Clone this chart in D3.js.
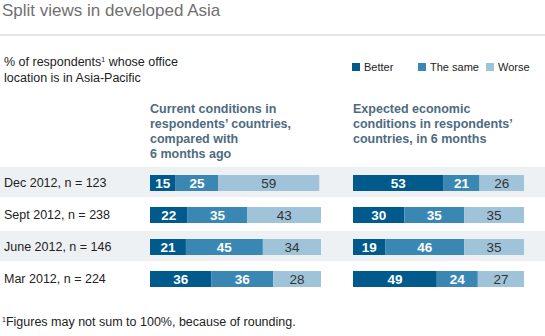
<!DOCTYPE html>
<html>
<head>
<meta charset="utf-8">
<script src="https://cdn.jsdelivr.net/npm/d3@7"></script>
<style>
  html, body { margin: 0; padding: 0; background: #fff; }
  svg { display: block; font-family: "Liberation Sans", Arial, Helvetica, sans-serif; }
</style>
</head>
<body>
<svg id="chart" width="545" height="336"></svg>
<script>
// Survey waves (rows, top to bottom)
const waves = ["Dec 2012, n = 123", "Sept 2012, n = 238", "June 2012, n = 146", "Mar 2012, n = 224"];
const seriesNames = ["Better", "The same", "Worse"];

// Current conditions vs. 6 months ago, % of respondents
const currentBetter = [15, 22, 21, 36];
const currentSame   = [25, 35, 45, 36];
const currentWorse  = [59, 43, 34, 28];

// Expected conditions in 6 months, % of respondents
const expectedBetter = [53, 30, 19, 49];
const expectedSame   = [21, 35, 46, 24];
const expectedWorse  = [26, 35, 35, 27];

const colors = ["#005a8c", "#3a87b4", "#9fc4da"];
const labelColors = ["#ffffff", "#ffffff", "#333333"];

const svg = d3.select("#chart");

// Title and rule
svg.append("text").attr("x", 2).attr("y", 16)
  .attr("font-size", 17).attr("fill", "#707070")
  .text("Split views in developed Asia");
svg.append("rect").attr("x", 0).attr("y", 34).attr("width", 545).attr("height", 2)
  .attr("fill", "#e6e6e6");

// Subtitle with footnote marker
const sub = svg.append("text").attr("font-size", 12.5).attr("fill", "#222");
const l1 = sub.append("tspan").attr("x", 4).attr("y", 66);
l1.append("tspan").text("% of respondents");
l1.append("tspan").attr("font-size", 7).attr("dy", -4).text("1");
l1.append("tspan").attr("dy", 4).text(" whose office");
sub.append("tspan").attr("x", 4).attr("y", 82).text("location is in Asia-Pacific");

// Legend
const legendX = [352, 418, 486];
const legend = svg.append("g");
seriesNames.forEach((name, i) => {
  legend.append("rect").attr("x", legendX[i]).attr("y", 63).attr("width", 8).attr("height", 8)
    .attr("fill", colors[i]);
  legend.append("text").attr("x", legendX[i] + 12).attr("y", 71)
    .attr("font-size", 11).attr("fill", "#222").text(name);
});

// Column headers
const headerColor = "#4e6b80";
function header(x, lines) {
  const t = svg.append("text").attr("font-size", 12.5).attr("font-weight", "bold").attr("fill", headerColor);
  lines.forEach((s, i) => t.append("tspan").attr("x", x).attr("y", 112.5 + i * 15).text(s));
}
header(150, ["Current conditions in", "respondents’ countries,", "compared with", "6 months ago"]);
header(353, ["Expected economic", "conditions in respondents’", "countries, in 6 months"]);

// Row layout
const y = d3.scaleBand().domain(waves).range([166, 294]).paddingInner(0).paddingOuter(0);
const barH = 16;

// Alternating background bands
svg.append("g").selectAll("rect").data(waves.filter((d, i) => i % 2 === 0)).join("rect")
  .attr("x", 0).attr("width", 545)
  .attr("y", d => y(d) + 1).attr("height", y.bandwidth() - 2)
  .attr("fill", "#eef1f4");

// Row labels
svg.append("g").selectAll("text").data(waves).join("text")
  .attr("x", 4).attr("y", d => y(d) + y.bandwidth() / 2 + 4.5)
  .attr("font-size", 12.5).attr("fill", "#222").text(d => d);

function drawPanel(x0, better, same, worse) {
  const x = d3.scaleLinear().domain([0, 100]).range([x0, x0 + 171]);
  const rows = waves.map((w, i) => ({ wave: w, vals: [better[i], same[i], worse[i]] }));
  const stack = d3.stack().keys([0, 1, 2]).value((d, k) => d.vals[k]);
  const layers = stack(rows);
  const g = svg.append("g");
  layers.forEach((layer, k) => {
    g.append("g").selectAll("rect").data(layer).join("rect")
      .attr("x", d => x(d[0]))
      .attr("width", d => x(d[1]) - x(d[0]))
      .attr("y", d => y(d.data.wave) + y.bandwidth() / 2 - barH / 2 + 1)
      .attr("height", barH)
      .attr("fill", colors[k]);
    g.append("g").selectAll("text").data(layer).join("text")
      .attr("x", d => (x(d[0]) + x(d[1])) / 2)
      .attr("y", d => y(d.data.wave) + y.bandwidth() / 2 + 5.5)
      .attr("text-anchor", "middle")
      .attr("font-size", 13.5)
      .attr("font-weight", k < 2 ? "bold" : "normal")
      .attr("fill", labelColors[k])
      .text(d => d.data.vals[k]);
  });
}
drawPanel(150, currentBetter, currentSame, currentWorse);
drawPanel(353, expectedBetter, expectedSame, expectedWorse);

// Footnote
const fn = svg.append("text").attr("x", 2).attr("y", 326).attr("font-size", 12.5).attr("fill", "#222");
fn.append("tspan").attr("font-size", 7).attr("dy", -4).text("1");
fn.append("tspan").attr("dy", 4).text("Figures may not sum to 100%, because of rounding.");
</script>
</body>
</html>
